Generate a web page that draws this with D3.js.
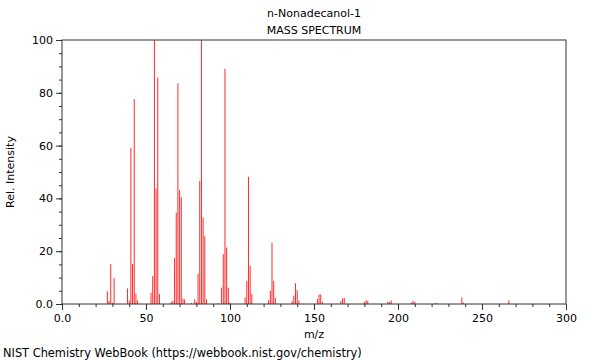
<!DOCTYPE html>
<html><head><meta charset="utf-8">
<script src="https://cdn.jsdelivr.net/npm/d3@7"></script>
<style>body{margin:0;background:#fff;}svg{display:block;font-family:"DejaVu Sans",sans-serif;}</style>
</head><body><svg id="c" width="600" height="360"></svg>
<script>
const title = "n-Nonadecanol-1";
const subtitle = "MASS SPECTRUM";
const mz = [27,28,29,30,31,39,40,41,42,43,44,45,53,54,55,56,57,58,65,66,67,68,69,70,71,72,73,77,79,80,81,82,83,84,85,86,93,95,96,97,98,99,100,109,110,111,112,113,123,124,125,126,127,137,138,139,140,141,152,153,154,155,166,167,168,180,181,182,194,195,196,208,209,210,222,223,238,239,266];
const intensity = [4.8,1.2,15.1,0.5,9.8,5.9,1.4,59.2,15.1,77.6,3.9,1.4,4.2,10.6,100,43.7,85.8,3.8,0.8,1.2,17.4,34.6,83.6,43.2,40.4,2.0,1.8,0.4,1.8,0.8,11.4,46.6,100,32.8,25.7,1.8,0.3,6.2,18.9,89.1,21.4,6.2,0.5,2.5,8.7,48.2,14.4,3.8,1.5,5.1,23.1,8.8,2.3,1.0,3.2,7.8,5.3,1.3,1.9,3.6,3.6,0.8,1.2,2.2,2.3,0.8,1.4,1.2,0.8,0.8,1.3,0.6,1.2,0.8,0.3,0.3,2.5,0.5,1.4];
const xTicks = [0,50,100,150,200,250,300];
const xTickLabels = ["0.0","50","100","150","200","250","300"];
const yTicks = [0,20,40,60,80,100];
const yTickLabels = ["0.0","20","40","60","80","100"];
const xMinor = d3.range(0,301,10);
const yMinor = d3.range(0,101,5);

const L=62, R=566, T=40, B=304;
const svg = d3.select("#c");
const x = d3.scaleLinear().domain([0,300]).range([L,R]);
const y = d3.scaleLinear().domain([0,100]).range([B,T]);
const axisColor = "#333";

// bars
svg.append("g").selectAll("line").data(mz.map((m,i)=>({m, v:intensity[i]})))
  .join("line")
  .attr("x1", d=>x(d.m)).attr("x2", d=>x(d.m))
  .attr("y1", y(0)).attr("y2", d=>y(d.v))
  .attr("stroke", "#ff2a2a").attr("stroke-width", 1);

// minor ticks
const gx = svg.append("g").attr("transform",`translate(0,${B})`)
  .call(d3.axisBottom(x).tickValues(xMinor).tickSize(3).tickFormat(""));
const gxM = svg.append("g").attr("transform",`translate(0,${B})`)
  .call(d3.axisBottom(x).tickValues(xTicks).tickSize(6).tickPadding(4)
    .tickFormat((d,i)=>xTickLabels[i]));
const gy = svg.append("g").attr("transform",`translate(${L},0)`)
  .call(d3.axisLeft(y).tickValues(yMinor).tickSize(3).tickFormat(""));
const gyM = svg.append("g").attr("transform",`translate(${L},0)`)
  .call(d3.axisLeft(y).tickValues(yTicks).tickSize(6).tickPadding(3)
    .tickFormat((d,i)=>yTickLabels[i]));
[gx,gxM,gy,gyM].forEach(g=>{
  g.select(".domain").remove();
  g.selectAll(".tick line").attr("stroke",axisColor);
  g.selectAll("text").attr("fill","#000").style("font-size","11px").style("font-family","DejaVu Sans");
});

// frame
svg.append("rect").attr("x",L).attr("y",T).attr("width",R-L).attr("height",B-T)
  .attr("fill","none").attr("stroke",axisColor).attr("stroke-width",1);

const txt = (s,xx,yy,anchor,size)=>svg.append("text").text(s).attr("x",xx).attr("y",yy)
  .attr("text-anchor",anchor).style("font-size",size+"px").attr("fill","#000");
txt(title,(L+R)/2,17,"middle",11);
txt(subtitle,(L+R)/2,34,"middle",11);
txt("m/z",(L+R)/2,338,"middle",11);
txt("NIST Chemistry WebBook (https://webbook.nist.gov/chemistry)",3,357,"start",11.4);
svg.append("text").text("Rel. Intensity")
  .attr("transform",`translate(14,${(T+B)/2}) rotate(-90)`)
  .attr("text-anchor","middle").style("font-size","11px").attr("fill","#000");
</script></body></html>
